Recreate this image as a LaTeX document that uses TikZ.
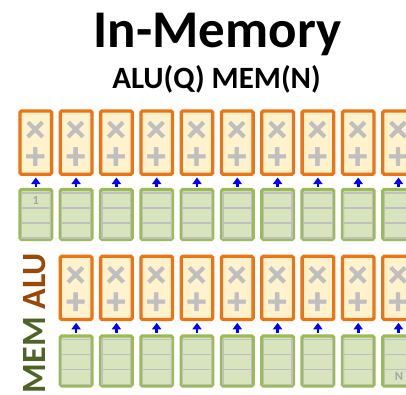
\documentclass[tikz,border=0pt]{standalone}
\usepackage{fontspec}
\setmainfont{Carlito}
\newfontfamily\symfont[FakeBold=1.5]{Carlito}
\usetikzlibrary{arrows.meta}
\definecolor{aluedge}{HTML}{EB7515}
\definecolor{alufill}{HTML}{FFF2CC}
\definecolor{memedge}{HTML}{9BBB59}
\definecolor{memfill}{HTML}{D7E4BD}
\definecolor{cellgray}{HTML}{BFBFBF}
\definecolor{labgray}{HTML}{A6A6A6}
\definecolor{memgreen}{HTML}{4F6228}
\definecolor{alubrown}{HTML}{984807}
\begin{document}
\begin{tikzpicture}[x=1pt,y=-1pt,
  alubox/.style={draw=aluedge,fill=alufill,line width=3.3pt,rounded corners=1.5pt,
    minimum width=31.6pt,minimum height=63.3pt,inner sep=0pt},
  membox/.style={draw=memedge,fill=memfill,line width=3.3pt,rounded corners=1.5pt,
    minimum width=31.6pt,minimum height=50pt,inner sep=0pt},
  cellline/.style={draw=cellgray,line width=1.2pt},
  sym/.style={text=cellgray,font=\symfont\bfseries\fontsize{38}{27}\selectfont,
    inner sep=0pt,align=center},
  arr/.style={draw=blue,line width=2.6pt,-{Triangle[width=9pt,length=6.5pt]},
    shorten >=1.6pt,shorten <=1.2pt},
  smalllab/.style={text=labgray,font=\bfseries\fontsize{12.5}{12.5}\selectfont,inner sep=0pt}]
\useasboundingbox (0,0) rectangle (406,394);
\clip (0,0) rectangle (406,394);
\node[anchor=base,font=\bfseries\fontsize{53}{53}\selectfont,inner sep=0pt] (title) at (217.5,47) {In-Memory};
\node[anchor=base,font=\bfseries\fontsize{31}{31}\selectfont,inner sep=0pt] (sub) at (216.5,88) {ALU(Q) MEM(N)};
\node[rotate=90,anchor=base east,font=\bfseries\fontsize{34}{34}\selectfont,inner sep=0pt] (side) at (45.5,253) {\textcolor{memgreen}{MEM} \textcolor{alubrown}{ALU}};
\foreach \r/\ay/\gy/\cs in {1/142.6/214.4/0, 2/287.9/360.9/1}{
  \foreach \c in {\cs,...,9}{
    \pgfmathsetmacro\cx{35.8+40.3*\c}
    \node[alubox] (a\r-\c) at (\cx,\ay) {};
    \node[membox] (g\r-\c) at (\cx,\gy) {};
    \draw[cellline] ([shift={(-14.4,-21.5)}]g\r-\c.center) rectangle ([shift={(14.4,23.5)}]g\r-\c.center);
    \draw[cellline] ([shift={(-14.4,-6.5)}]g\r-\c.center) -- ([shift={(14.4,-6.5)}]g\r-\c.center);
    \draw[cellline] ([shift={(-14.4,8.5)}]g\r-\c.center) -- ([shift={(14.4,8.5)}]g\r-\c.center);
    \node[sym] (s\r-\c) at ([shift={(-0.5,2.2)}]a\r-\c.center) {×\\+};
    \draw[arr] (g\r-\c.north) -- (a\r-\c.south);
  }
}
\node[smalllab] (one) at ([shift={(0,-14)}]g1-0.center) {1};
\node[smalllab] (en) at ([shift={(0.5,16)}]g2-9.center) {N};
\end{tikzpicture}
\end{document}
